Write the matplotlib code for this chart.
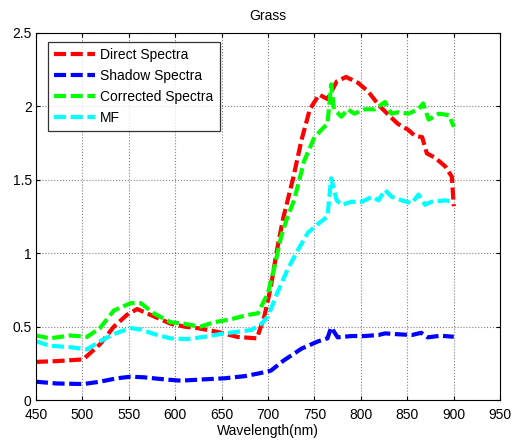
import matplotlib
matplotlib.use('Agg')
import matplotlib.pyplot as plt

plt.rcParams['font.family'] = ['Liberation Sans', 'DejaVu Sans']

# Direct spectra
wl_direct = [450, 472, 501, 519, 534, 548, 559, 577, 595, 610, 624, 645, 667, 688,
             696, 703, 709, 716, 727, 736, 745, 755, 764, 774, 784, 797, 808, 819,
             830, 840, 851, 858, 866, 871, 880, 891, 898, 900]
direct = [0.26, 0.265, 0.277, 0.38, 0.50, 0.58, 0.62, 0.57, 0.52, 0.50, 0.49, 0.465,
          0.43, 0.42, 0.57, 0.77, 1.0, 1.23, 1.51, 1.77, 1.98, 2.08, 2.05, 2.17, 2.20,
          2.16, 2.10, 2.01, 1.94, 1.88, 1.84, 1.80, 1.79, 1.68, 1.65, 1.59, 1.52, 1.32]

# Shadow spectra
wl_shadow = [450, 472, 501, 519, 537, 552, 566, 588, 606, 631, 653, 675, 689, 703,
             717, 736, 754, 764, 768, 775, 790, 804, 819, 826, 840, 855, 865, 872,
             886, 900]
shadow = [0.125, 0.113, 0.109, 0.125, 0.148, 0.159, 0.155, 0.141, 0.132, 0.141,
          0.148, 0.163, 0.18, 0.20, 0.27, 0.35, 0.40, 0.42, 0.495, 0.427, 0.436,
          0.436, 0.443, 0.454, 0.448, 0.443, 0.458, 0.427, 0.438, 0.431]

# Corrected spectra
wl_corr = [450, 465, 487, 505, 519, 534, 552, 563, 577, 595, 609, 627, 642, 660,
           678, 689, 700, 707, 714, 720, 728, 739, 750, 759, 764, 768, 771, 779,
           786, 793, 804, 815, 826, 833, 840, 851, 862, 867, 873, 884, 895, 900]
corrected = [0.44, 0.42, 0.44, 0.43, 0.49, 0.61, 0.66, 0.66, 0.59, 0.53, 0.52, 0.50,
             0.53, 0.55, 0.58, 0.59, 0.73, 0.91, 1.11, 1.23, 1.36, 1.63, 1.79, 1.85,
             1.88, 2.15, 1.98, 1.93, 1.98, 1.95, 1.98, 1.98, 2.03, 1.95, 1.96, 1.95,
             1.98, 2.02, 1.91, 1.95, 1.94, 1.86]

# MF
wl_mf = [450, 465, 487, 505, 519, 534, 552, 563, 577, 595, 613, 631, 649, 667,
         682, 693, 700, 710, 721, 732, 743, 754, 764, 768, 774, 779, 790, 801,
         812, 819, 826, 833, 844, 855, 862, 869, 876, 891, 900]
mf = [0.40, 0.37, 0.36, 0.345, 0.40, 0.45, 0.49, 0.48, 0.45, 0.42, 0.415, 0.43,
      0.45, 0.465, 0.477, 0.52, 0.57, 0.73, 0.89, 1.02, 1.14, 1.20, 1.25, 1.51,
      1.36, 1.33, 1.35, 1.35, 1.385, 1.36, 1.43, 1.385, 1.36, 1.34, 1.40, 1.33,
      1.35, 1.36, 1.35]

fig = plt.figure(figsize=(5.13, 4.45), dpi=100)
ax = fig.add_axes([0.070, 0.101, 0.905, 0.825])

style = dict(linewidth=3, linestyle='--', dashes=(2.9, 1.1))
ax.plot(wl_direct, direct, color='#ff0000', label='Direct Spectra', **style)
ax.plot(wl_shadow, shadow, color='#0000ff', label='Shadow Spectra', **style)
ax.plot(wl_corr, corrected, color='#00ff00', label='Corrected Spectra', **style)
ax.plot(wl_mf, mf, color='#00ffff', label='MF', **style)

ax.set_xlim(450, 950)
ax.set_ylim(0, 2.5)
ax.set_xticks(range(450, 951, 50))
ax.set_yticks([0, 0.5, 1, 1.5, 2, 2.5])
ax.set_yticklabels(['0', '0.5', '1', '1.5', '2', '2.5'])
ax.tick_params(direction='in', labelsize=10, length=3, top=True, right=True)
ax.tick_params(axis='x', pad=6)
ax.tick_params(axis='y', pad=3)
ax.grid(True, linestyle=':', color='#808080', linewidth=0.8)
for s in ax.spines.values():
    s.set_linewidth(0.8)

ax.set_title('Grass', fontsize=10, pad=9)
ax.set_xlabel('Wavelength(nm)', fontsize=10, labelpad=1)

leg = ax.legend(loc='upper left', fontsize=10, frameon=True, fancybox=False,
                edgecolor='black', handlelength=3.0, borderpad=0.45,
                labelspacing=0.5, handletextpad=0.35, borderaxespad=0,
                bbox_to_anchor=(0.025, 0.976))
leg.get_frame().set_linewidth(0.9)

fig.savefig('out.png', dpi=100)
